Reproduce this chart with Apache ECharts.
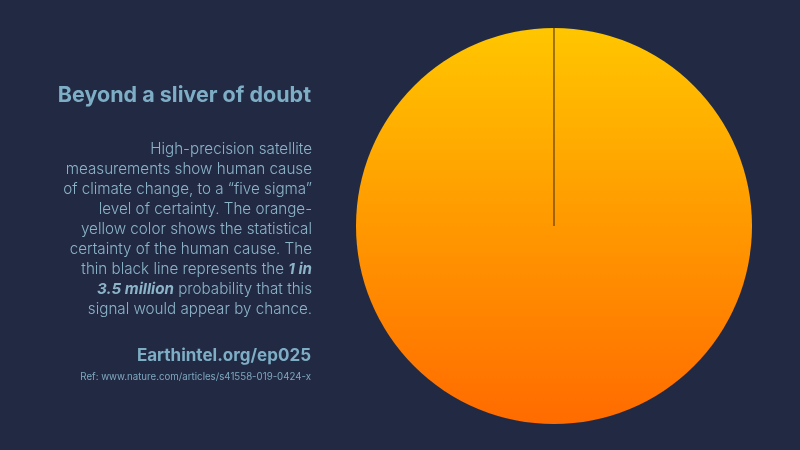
<!DOCTYPE html>
<html><head><meta charset="utf-8">
<script src="https://cdn.jsdelivr.net/npm/echarts@6/dist/echarts.min.js"></script>
<style>html,body{margin:0;padding:0;background:#222a43;}#c{width:800px;height:450px;}</style>
</head><body><div id="c"></div>
<script>
const categories = ['Human cause (statistical certainty)', 'Appears by chance (1 in 3.5 million)'];
const values = [3499999, 1];
const titleText = 'Beyond a sliver of doubt';
const bodyLines = [
  'High-precision satellite',
  'measurements show human cause',
  'of climate change, to a \u201cfive sigma\u201d',
  'level of certainty. The orange-',
  'yellow color shows the statistical',
  'certainty of the human cause. The',
  'thin black line represents the {b|1 in}',
  '{b|3.5 million} probability that this',
  'signal would appear by chance.'
];
const linkText = 'Earthintel.org/ep025';
const refText = 'Ref: www.nature.com/articles/s41558-019-0424-x';

const chart = echarts.init(document.getElementById('c'));
const grad = new echarts.graphic.LinearGradient(0, 0, 0, 1, [
  {offset: 0, color: '#ffc600'},
  {offset: 1, color: '#ff6b00'}
]);
const txt = (t, x, y, style) => ({type: 'text', x: x, y: y, silent: true,
  style: Object.assign({text: t, align: 'right', verticalAlign: 'top'}, style)});
chart.setOption({
  backgroundColor: '#222a43',
  animation: false,
  graphic: [
    txt(titleText, 311, 85, {fill: '#7eaec6', fontFamily: 'Inter', fontWeight: 'bold', fontSize: 21.5}),
    txt(bodyLines.join('\n'), 312, 139, {fill: '#8cb4c9', fontFamily: 'Inter', fontWeight: 300, fontSize: 15.2, lineHeight: 20.1,
      rich: {b: {fontFamily: 'Inter', fontWeight: 'bold', fontStyle: 'italic', fontSize: 15.2, fill: '#8cb4c9', lineHeight: 20.1}}}),
    txt(linkText, 311, 347, {fill: '#7eaec6', fontFamily: 'Inter', fontWeight: 'bold', fontSize: 17}),
    txt(refText, 311, 372, {fill: '#7ea6bf', fontFamily: 'Inter', fontWeight: 'normal', fontSize: 9.7})
  ],
  series: [{
    type: 'pie',
    center: [554, 226],
    radius: [0, 198],
    startAngle: 90,
    clockwise: true,
    label: {show: false},
    labelLine: {show: false},
    silent: true,
    data: [
      {name: categories[0], value: values[0], itemStyle: {color: grad, borderWidth: 0}},
      {name: categories[1], value: values[1], itemStyle: {color: 'rgba(90,60,0,0.7)', borderColor: 'rgba(90,60,0,0.7)', borderWidth: 1}}
    ]
  }]
});
</script></body></html>
